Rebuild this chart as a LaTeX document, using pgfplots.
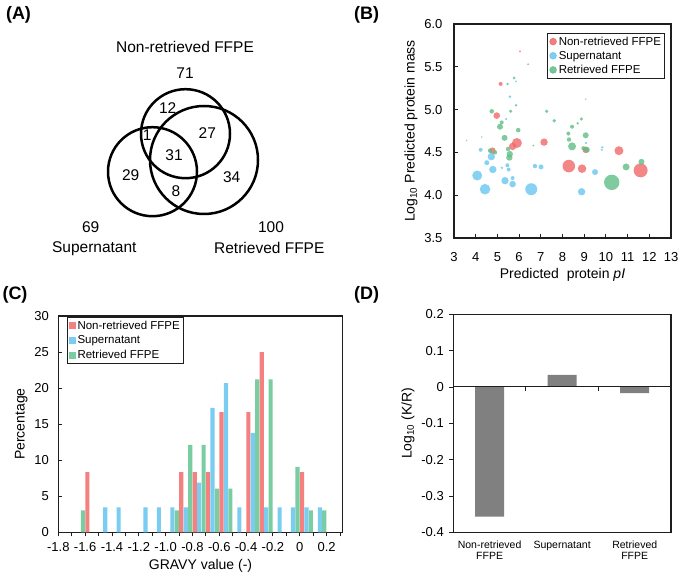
\documentclass[border=0pt]{standalone}
\usepackage{pgfplots}
\pgfplotsset{compat=1.18}
\usepackage{fontspec}
\setmainfont{Liberation Sans}

\definecolor{redc}{RGB}{240,105,105}
\definecolor{bluec}{RGB}{105,198,240}
\definecolor{greenc}{RGB}{95,190,135}
\definecolor{barr}{RGB}{244,128,128}
\definecolor{barb}{RGB}{122,205,240}
\definecolor{barg}{RGB}{122,205,160}
\definecolor{frame}{RGB}{30,30,30}

\newcommand\fT{\fontsize{13}{15}\selectfont}
\newcommand\fL{\fontsize{14}{16}\selectfont}
\newcommand\fG{\fontsize{11.5}{13}\selectfont}
\newcommand\fC{\fontsize{10.5}{11}\selectfont}
\newcommand\fV{\fontsize{15.5}{18}\selectfont}
\newcommand\fP{\fontsize{18}{20}\selectfont\bfseries}

\pgfplotsset{
  every axis/.append style={
    scale only axis, anchor=south west,
    /pgf/number format/assume math mode=true,
    axis line style={line width=1.2pt, frame},
    tick style={line width=0.9pt, frame},
    ticklabel style={font=\fT},
    label style={font=\fL},
  },
  bubble/.style={scatter, only marks, mark=*,
    scatter/use mapped color={draw opacity=0, fill=#1, fill opacity=0.8},
    visualization depends on={\thisrow{s} \as \msz},
    scatter/@pre marker code/.append style={/tikz/mark size=\msz},
    legend image code/.code={\fill[#1, opacity=0.85] (4pt,0pt) circle (3.3pt);}},
  hbar/.style={ybar, bar shift=0pt, bar width=0.031, fill=#1, draw=none,
    legend image code/.code={\fill[#1] (0pt,-3.4pt) rectangle (6.8pt,3.4pt);}},
}

\begin{document}
\begin{tikzpicture}
\path[use as bounding box] (0pt,0pt) rectangle (685pt,580pt);

% panel labels
\node[font=\fP] at (18.5pt,565pt) {(A)};
\node[font=\fP] at (366.7pt,565pt) {(B)};
\node[font=\fP] at (15pt,285pt) {(C)};
\node[font=\fP] at (366.7pt,285pt) {(D)};

% ---------------- (A) Venn
\begin{axis}[at={(0pt,290pt)}, width=340pt, height=290pt,
  xmin=0, xmax=340, ymin=0, ymax=290, y dir=reverse, hide axis, clip=false]
\addplot[only marks, mark=o, mark size=44.5, mark options={line width=2.5pt, draw=black}]
  coordinates {(185.5,133.7)};
\addplot[only marks, mark=o, mark size=44.5, mark options={line width=2.5pt, draw=black}]
  coordinates {(152.5,171.7)};
\addplot[only marks, mark=o, mark size=54, mark options={line width=2.5pt, draw=black}]
  coordinates {(204,160)};
\node[font=\fV] at (axis cs:185,46.7) {Non-retrieved FFPE};
\node[font=\fV] at (axis cs:185,72.7) {71};
\node[font=\fV] at (axis cs:167.7,108.3) {12};
\node[font=\fV] at (axis cs:147.3,135) {1};
\node[font=\fV] at (axis cs:207.3,132.7) {27};
\node[font=\fV] at (axis cs:174,155) {31};
\node[font=\fV] at (axis cs:130.7,175) {29};
\node[font=\fV] at (axis cs:231.7,176.7) {34};
\node[font=\fV] at (axis cs:176,191) {8};
\node[font=\fV] at (axis cs:90.7,226.7) {69};
\node[font=\fV] at (axis cs:94.3,248.3) {Supernatant};
\node[font=\fV] at (axis cs:271,226.7) {100};
\node[font=\fV] at (axis cs:269.3,248.3) {Retrieved FFPE};
\end{axis}

% ---------------- (B) bubble chart
\begin{axis}[at={(454pt,342pt)}, width=217pt, height=214pt,
  xmin=3, xmax=13, ymin=3.5, ymax=6,
  xtick={3,4,5,6,7,8,9,10,11,12,13},
  ytick={3.5,4,4.5,5,5.5,6}, yticklabels={3.5,4.0,4.5,5.0,5.5,6.0},
  tick align=inside, tick pos=left, major tick length=4pt,
  yticklabel style={xshift=-8pt}, xticklabel style={yshift=-11pt},
  xlabel={Predicted\ \ protein \textit{pI}},
  ylabel={Log\textsubscript{10} Predicted protein mass},
  legend style={at={(0.972,0.959)}, anchor=north east, font=\fG,
    draw=frame, line width=0.8pt, inner sep=1.5pt, row sep=0.5pt},
  legend cell align=left]
\addplot[bubble=redc] table {
x y s
6.04 5.68 1.0
5.15 5.30 2.0
4.97 4.93 3.3
4.77 4.52 3.3
5.90 4.61 5.0
5.70 4.57 3.7
7.15 4.62 3.7
8.29 4.34 6.3
8.90 4.31 4.3
9.07 4.53 3.3
10.60 4.52 4.5
11.60 4.29 7.0
};
\addlegendentry{Non-retrieved FFPE}
\addplot[bubble=bluec] table {
x y s
4.07 4.23 5.0
4.43 4.07 5.3
4.23 4.53 2.0
4.51 4.38 2.5
4.72 4.45 3.7
4.79 4.30 3.7
5.21 4.32 1.3
5.46 4.35 2.0
5.52 4.30 2.0
5.35 4.17 3.7
5.70 4.20 2.0
5.70 4.13 3.3
6.56 4.07 6.0
6.73 4.34 2.2
7.01 4.33 2.5
8.88 4.04 3.7
9.50 4.27 3.0
9.08 4.61 1.3
9.84 4.56 1.2
9.81 4.53 1.2
5.58 5.15 1.5
5.40 4.89 1.2
5.86 5.33 1.0
3.58 4.64 0.9
4.28 4.68 0.8
9.07 5.12 0.9
};
\addlegendentry{Supernatant}
\addplot[bubble=greenc] table {
x y s
4.74 4.98 2.3
5.12 4.80 3.0
5.20 4.85 2.0
5.33 4.67 3.0
5.49 4.54 2.2
5.57 4.48 3.2
5.55 4.44 3.2
4.66 4.52 2.2
4.89 4.50 2.2
5.96 4.76 2.3
5.61 4.98 1.8
5.86 5.05 1.3
5.47 5.30 1.3
5.77 5.37 1.5
6.42 5.53 1.0
6.66 4.58 1.0
7.27 4.98 1.8
7.62 4.87 1.8
8.27 4.72 2.0
8.30 4.65 2.2
8.44 4.80 2.0
8.70 4.84 1.3
8.87 4.89 1.8
8.44 4.57 4.0
9.07 4.70 3.0
8.96 4.55 2.0
9.12 4.53 3.0
10.27 4.15 7.7
10.93 4.33 3.5
11.64 4.39 3.0
};
\addlegendentry{Retrieved FFPE}
\end{axis}

% ---------------- (C) GRAVY histogram
\begin{axis}[at={(58.3pt,47.7pt)}, width=284.4pt, height=216.3pt,
  xmin=-1.8, xmax=0.32, ymin=0, ymax=30,
  xtick={-1.8,-1.6,-1.4,-1.2,-1.0,-0.8,-0.6,-0.4,-0.2,0,0.2},
  xticklabels={-1.8,-1.6,-1.4,-1.2,-1.0,-0.8,-0.6,-0.4,-0.2,0,0.2},
  minor xtick={-1.7,-1.5,-1.3,-1.1,-0.9,-0.7,-0.5,-0.3,-0.1,0.1,0.3},
  ytick={0,5,10,15,20,25,30},
  tick pos=left, xtick align=outside, ytick align=inside,
  major tick length=4pt, minor tick length=4pt,
  yticklabel style={xshift=-6pt}, xticklabel style={yshift=-3pt},
  xlabel={GRAVY value (-)}, ylabel={Percentage},
  legend style={at={(0.03,0.995)}, anchor=north west, font=\fG,
    draw=frame, line width=0.8pt, inner sep=1.5pt, row sep=1pt},
  legend cell align=left]
\addplot[hbar=barr] coordinates {
(-1.583,8.33) (-0.883,8.33) (-0.783,8.33) (-0.683,8.33) (-0.583,16.67)
(-0.383,16.67) (-0.283,25.00) (0.017,8.33)
};
\addlegendentry{Non-retrieved FFPE}
\addplot[hbar=barb] coordinates {
(-1.45,3.45) (-1.35,3.45) (-1.15,3.45) (-1.05,3.45) (-0.95,3.45) (-0.85,3.45)
(-0.75,6.90) (-0.65,17.24) (-0.55,20.69) (-0.45,3.45) (-0.35,13.79)
(-0.25,3.45) (-0.15,3.45) (-0.05,3.45) (0.05,3.45) (0.15,3.45)
};
\addlegendentry{Supernatant}
\addplot[hbar=barg] coordinates {
(-1.617,3.03) (-0.917,3.03) (-0.817,12.12) (-0.717,12.12) (-0.617,6.06)
(-0.517,6.06) (-0.317,21.21) (-0.217,21.21) (-0.017,9.09) (0.083,3.03)
(0.183,3.03)
};
\addlegendentry{Retrieved FFPE}
\end{axis}

% ---------------- (D) log ratio bars
\begin{axis}[at={(453.3pt,47.7pt)}, width=217.7pt, height=218pt,
  xmin=0.5, xmax=3.5, ymin=-0.4, ymax=0.2,
  ytick={-0.4,-0.3,-0.2,-0.1,0,0.1,0.2},
  yticklabels={-0.4,-0.3,-0.2,-0.1,0,0.1,0.2},
  xtick={1,2,3},
  xticklabels={{Non-retrieved\\FFPE},{Supernatant},{Retrieved\\FFPE}},
  xticklabel style={font=\fC, align=center, yshift=-5pt},
  tick pos=left, ytick align=outside, major tick length=4pt,
  x tick style={draw=none},
  yticklabel style={xshift=-2pt},
  ylabel={Log\textsubscript{10} (K/R)}]
\addplot[ybar, bar width=0.4, bar shift=0pt, fill=gray, draw=none]
  coordinates {(1,-0.357) (2,0.033) (3,-0.017)};
\draw[frame, line width=1pt] (axis cs:0.5,0) -- (axis cs:3.5,0);
\draw[frame, line width=0.9pt] (axis cs:1.5,0) -- ([yshift=-4pt]axis cs:1.5,0);
\draw[frame, line width=0.9pt] (axis cs:2.5,0) -- ([yshift=-4pt]axis cs:2.5,0);
\end{axis}
\end{tikzpicture}
\end{document}
